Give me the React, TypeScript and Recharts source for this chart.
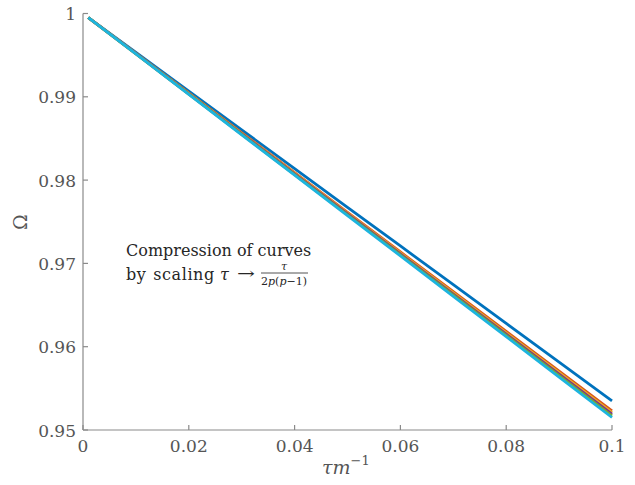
import React from "react";
import { LineChart, Line, XAxis, YAxis } from "recharts";

// tau * m^-1 sample positions
const tau = [0.001, 0.01, 0.02, 0.03, 0.04, 0.05, 0.06, 0.07, 0.08, 0.09, 0.1];

// Omega for each p, after rescaling tau -> tau / (2p(p-1))
const omegaP2 = [0.9995, 0.99532, 0.99067, 0.98603, 0.98138, 0.97673, 0.97209, 0.96744, 0.96279, 0.95815, 0.9535];
const omegaP3 = [0.9995, 0.99521, 0.99044, 0.98567, 0.98091, 0.97614, 0.97137, 0.9666, 0.96184, 0.95707, 0.9523];
const omegaP4 = [0.9995, 0.99519, 0.9904, 0.98561, 0.98083, 0.97604, 0.97125, 0.96646, 0.96167, 0.95689, 0.9521];
const omegaP5 = [0.9995, 0.99517, 0.99036, 0.98556, 0.98075, 0.97594, 0.97113, 0.96632, 0.96152, 0.95671, 0.9519];
const omegaP6 = [0.9995, 0.99515, 0.99033, 0.9855, 0.98067, 0.97584, 0.97101, 0.96619, 0.96136, 0.95653, 0.9517];
const omegaP7 = [0.9995, 0.99514, 0.99029, 0.98544, 0.98059, 0.97574, 0.9709, 0.96605, 0.9612, 0.95635, 0.9515];

const xTicks = [0, 0.02, 0.04, 0.06, 0.08, 0.1];
const xTickLabels = ["0", "0.02", "0.04", "0.06", "0.08", "0.1"];
const yTicks = [0.95, 0.96, 0.97, 0.98, 0.99, 1];
const yTickLabels = ["0.95", "0.96", "0.97", "0.98", "0.99", "1"];

const seriesKeys = ["p2", "p3", "p4", "p5", "p6", "p7"];
const seriesValues = [omegaP2, omegaP3, omegaP4, omegaP5, omegaP6, omegaP7];
const seriesColors = ["#0072BD", "#D95319", "#EDB120", "#7E2F8E", "#77AC30", "#1DB4DF"];

const data = tau.map((t, i) => {
  const row: Record<string, number> = { t };
  seriesKeys.forEach((k, j) => {
    row[k] = seriesValues[j][i];
  });
  return row;
});

const FONT = '"DejaVu Serif", "Liberation Serif", "Times New Roman", serif';
const AXIS = "#8a8a8a";
const TICK_TEXT = "#555555";
const TEXT = "#262626";
const fontStyle = { fontFamily: FONT };

const XTick = (props: any) => {
  const { x, y, payload } = props;
  const i = xTicks.indexOf(payload.value);
  return (
    <g>
      <line x1={x} y1={y} x2={x} y2={y - 5} stroke={AXIS} strokeWidth={1.2} />
      <text x={x} y={y + 22} textAnchor="middle" style={fontStyle} fontSize={17} fill={TICK_TEXT}>
        {i >= 0 ? xTickLabels[i] : payload.value}
      </text>
    </g>
  );
};

const YTick = (props: any) => {
  const { x, y, payload } = props;
  const i = yTicks.findIndex((v) => Math.abs(v - payload.value) < 1e-9);
  return (
    <g>
      <line x1={x} y1={y} x2={x + 5} y2={y} stroke={AXIS} strokeWidth={1.2} />
      <text x={x - 7} y={y + 6.5} textAnchor="end" style={fontStyle} fontSize={17} fill={TICK_TEXT}>
        {i >= 0 ? yTickLabels[i] : payload.value}
      </text>
    </g>
  );
};

export default function App() {
  return (
    <div style={{ position: "absolute", left: 0, top: 0, width: 635, height: 485, background: "#fff" }}>
      <LineChart
        width={635}
        height={485}
        data={data}
        margin={{ top: 13.5, right: 23, bottom: 0, left: 0 }}
      >
        <XAxis
          dataKey="t"
          type="number"
          domain={[0, 0.1]}
          ticks={xTicks}
          tickSize={0}
          tickMargin={0}
          tickLine={false}
          tick={<XTick />}
          height={55}
          stroke={AXIS}
          strokeWidth={1.2}
          interval={0}
        />
        <YAxis
          type="number"
          domain={[0.95, 1]}
          ticks={yTicks}
          tickSize={0}
          tickMargin={0}
          tickLine={false}
          tick={<YTick />}
          width={83}
          stroke={AXIS}
          strokeWidth={1.2}
          interval={0}
        />
        {seriesKeys.map((k, j) => (
          <Line
            key={k}
            type="linear"
            dataKey={k}
            stroke={seriesColors[j]}
            strokeWidth={2.8}
            dot={false}
            isAnimationActive={false}
          />
        ))}
      </LineChart>
      <svg
        width={635}
        height={485}
        style={{ position: "absolute", left: 0, top: 0, pointerEvents: "none", fontFamily: FONT }}
      >
        {/* y-axis label */}
        <text
          x={0}
          y={0}
          transform="translate(27 222) rotate(-90)"
          textAnchor="middle"
          fontSize={19}
          fill={TICK_TEXT}
        >
          Ω
        </text>
        {/* x-axis label */}
        <text x={322} y={474} fontSize={19} fill={TICK_TEXT}>
          <tspan fontStyle="italic">τm</tspan>
          <tspan fontSize={13} dy={-9}>−1</tspan>
        </text>
        {/* annotation */}
        <text x={126} y={256} fontSize={16} fill={TEXT}>
          Compression of curves
        </text>
        <text x={126} y={280} fontSize={16} fill={TEXT} letterSpacing={0.6} wordSpacing={1}>
          by scaling
        </text>
        <text x={220} y={280} fontSize={16} fontStyle="italic" fill={TEXT}>
          τ
        </text>
        <text x={237} y={279} fontSize={16} textLength={18} lengthAdjust="spacingAndGlyphs" fill={TEXT}>
          →
        </text>
        <text x={284} y={270} fontSize={11} textAnchor="middle" fontStyle="italic" fill={TEXT}>
          τ
        </text>
        <line x1={261} y1={273} x2={308} y2={273} stroke={TEXT} strokeWidth={0.8} />
        <text x={284} y={285} fontSize={11} textAnchor="middle" fill={TEXT}>
          2<tspan fontStyle="italic">p</tspan>(<tspan fontStyle="italic">p</tspan>−1)
        </text>
      </svg>
    </div>
  );
}
